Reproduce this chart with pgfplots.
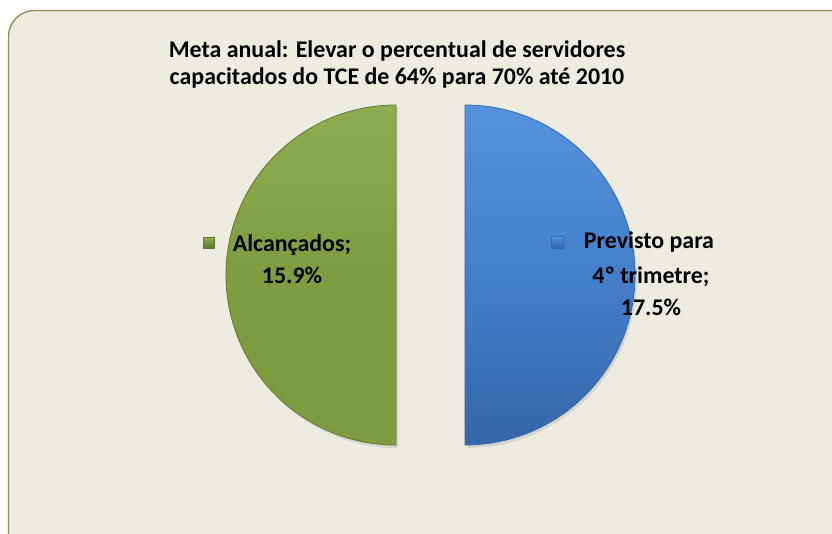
\documentclass[border=0pt]{standalone}
\usepackage{pgfplots}
\pgfplotsset{compat=1.18}
\usepackage{fontspec}
\setmainfont{Carlito}
\definecolor{bgbeige}{HTML}{EEEBE0}
\definecolor{frameolive}{HTML}{938A56}
\definecolor{sgreen}{HTML}{7F9C40}
\definecolor{sgreendk}{HTML}{5E7A2C}
\definecolor{sgreenlt}{HTML}{8FAD50}
\definecolor{sblue}{HTML}{447FCB}
\definecolor{sbluedk}{HTML}{3566A8}
\definecolor{sbluelt}{HTML}{5592DD}

\begin{document}
\begin{tikzpicture}
\begin{axis}[
    at={(0,0)}, anchor=south west,
    width=832bp, height=534bp, scale only axis,
    xmin=0, xmax=832, ymin=0, ymax=534,
    y dir=reverse,
    hide axis, clip=false,
]
% frame
\fill[white] (axis cs:0,0) rectangle (axis cs:832,534);
\filldraw[fill=bgbeige, draw=frameolive, line width=1.3bp, rounded corners=26bp]
    (axis cs:8.5,10.5) rectangle (axis cs:860,560);

% title
\begin{scope}[every node/.style={font=\bfseries\fontsize{24}{28}\selectfont, anchor=base}]
\node at (axis cs:397,58) {Meta anual: Elevar o percentual de servidores};
\node at (axis cs:397,85) {capacitados do TCE de 64\% para 70\% até 2010};
\end{scope}

% slices (exploded halves), r = 170
\fill[black!30, opacity=0.4] (axis cs:398,108) arc[start angle=90, end angle=270, radius=170bp] -- cycle;
\fill[black!30, opacity=0.4] (axis cs:467,108) arc[start angle=90, end angle=-90, radius=170bp] -- cycle;
\shade[top color=sgreenlt, bottom color=sgreen, middle color=sgreen, draw=sgreendk, line width=0.8bp]
    (axis cs:396,105) arc[start angle=90, end angle=270, radius=170bp] -- cycle;
\shade[top color=sbluelt, bottom color=sbluedk, middle color=sblue, draw=sbluedk, line width=0.8bp]
    (axis cs:465,105) arc[start angle=90, end angle=-90, radius=170bp] -- cycle;

% labels
\begin{scope}[every node/.style={font=\bfseries\fontsize{24}{28}\selectfont, anchor=base}]
\node at (axis cs:292,251) {Alcançados;};
\node at (axis cs:292,283) {15.9\%};
\node at (axis cs:649,248) {Previsto para};
\node at (axis cs:651,283) {4º trimetre;};
\node at (axis cs:651,315) {17.5\%};
\end{scope}

% legend keys
\shade[top color=sgreenlt, bottom color=sgreendk, draw=sgreendk, line width=0.4bp]
    (axis cs:203,237) rectangle (axis cs:214,248);
\shade[top color=sbluelt, bottom color=sbluedk, draw=sbluedk, line width=0.4bp]
    (axis cs:551,236) rectangle (axis cs:563,248);
\end{axis}
\pgfresetboundingbox
\useasboundingbox (0,0) rectangle (832bp,534bp);
\end{tikzpicture}
\end{document}
